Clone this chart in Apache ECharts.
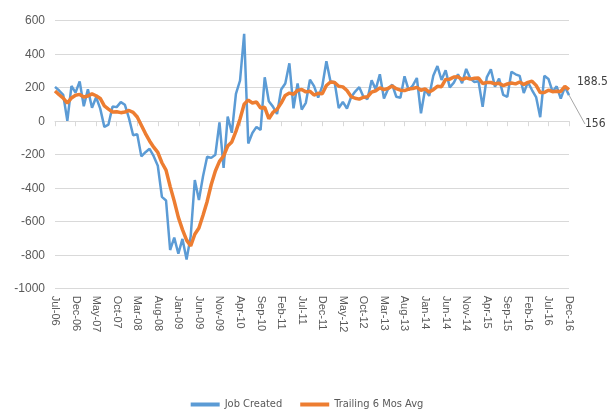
<!DOCTYPE html>
<html>
<head>
<meta charset="utf-8">
<script src="https://cdn.jsdelivr.net/npm/echarts@6/dist/echarts.min.js"></script>
<style>
  html, body { margin: 0; padding: 0; background: #fff; }
  #chart { width: 614px; height: 416px; }
</style>
</head>
<body>
<div id="chart"></div>
<script>
// Monthly categories, Jul-06 .. Dec-16
const months = [
  'Jul-06','Aug-06','Sep-06','Oct-06','Nov-06','Dec-06',
  'Jan-07','Feb-07','Mar-07','Apr-07','May-07','Jun-07','Jul-07','Aug-07','Sep-07','Oct-07','Nov-07','Dec-07',
  'Jan-08','Feb-08','Mar-08','Apr-08','May-08','Jun-08','Jul-08','Aug-08','Sep-08','Oct-08','Nov-08','Dec-08',
  'Jan-09','Feb-09','Mar-09','Apr-09','May-09','Jun-09','Jul-09','Aug-09','Sep-09','Oct-09','Nov-09','Dec-09',
  'Jan-10','Feb-10','Mar-10','Apr-10','May-10','Jun-10','Jul-10','Aug-10','Sep-10','Oct-10','Nov-10','Dec-10',
  'Jan-11','Feb-11','Mar-11','Apr-11','May-11','Jun-11','Jul-11','Aug-11','Sep-11','Oct-11','Nov-11','Dec-11',
  'Jan-12','Feb-12','Mar-12','Apr-12','May-12','Jun-12','Jul-12','Aug-12','Sep-12','Oct-12','Nov-12','Dec-12',
  'Jan-13','Feb-13','Mar-13','Apr-13','May-13','Jun-13','Jul-13','Aug-13','Sep-13','Oct-13','Nov-13','Dec-13',
  'Jan-14','Feb-14','Mar-14','Apr-14','May-14','Jun-14','Jul-14','Aug-14','Sep-14','Oct-14','Nov-14','Dec-14',
  'Jan-15','Feb-15','Mar-15','Apr-15','May-15','Jun-15','Jul-15','Aug-15','Sep-15','Oct-15','Nov-15','Dec-15',
  'Jan-16','Feb-16','Mar-16','Apr-16','May-16','Jun-16','Jul-16','Aug-16','Sep-16','Oct-16','Nov-16','Dec-16'
];

// Monthly jobs created (thousands)
const jobsCreated = [
  205, 183, 157, 2, 210, 171,
  238, 89, 190, 80, 143, 75, -34, -20, 88, 84, 114, 98,
  17, -84, -78, -210, -185, -165, -209, -266, -452, -473, -769, -695,
  -791, -703, -826, -686, -351, -470, -329, -212, -219, -200, -7, -279,
  28, -69, 163, 243, 522, -133, -70, -34, -52, 262, 119, 87,
  43, 189, 225, 346, 77, 225, 69, 110, 248, 209, 141, 209,
  358, 237, 233, 78, 115, 76, 143, 177, 203, 146, 132, 244,
  190, 280, 135, 192, 218, 146, 140, 268, 185, 212, 258, 47,
  190, 151, 272, 329, 246, 304, 202, 230, 280, 227, 312, 255,
  234, 238, 86, 262, 310, 206, 254, 157, 145, 295, 280, 271,
  168, 233, 186, 144, 24, 271, 252, 176, 208, 135, 204, 156
];

// Trailing six-month average (thousands)
const trailingAvg = [
  180, 158, 138, 108, 139, 155,
  160, 145, 150, 163, 152, 136, 91, 72, 55, 56, 51, 55,
  64, 53, 25, -24, -74, -118, -155, -186, -248, -292, -389, -477,
  -574, -647, -710, -745, -675, -638, -561, -479, -378, -297, -240, -208,
  -148, -124, -61, 13, 101, 126, 109, 115, 79, 83, 15, 52,
  71, 108, 154, 168, 161, 184, 189, 175, 179, 156, 167, 164,
  213, 234, 231, 209, 205, 183, 147, 137, 132, 143, 146, 174,
  182, 199, 188, 196, 210, 194, 185, 183, 192, 195, 202, 185,
  193, 174, 188, 208, 206, 249, 251, 264, 265, 248, 259, 251,
  256, 258, 225, 231, 231, 223, 226, 213, 222, 228, 223, 234,
  219, 232, 239, 214, 171, 171, 185, 176, 179, 178, 208, 188.5
];

const seriesNames = ['Job Created', 'Trailing 6 Mos Avg'];
const yTicks = { min: -1000, max: 600, step: 200 };

const lastIdx = months.length - 1;
const gridColor = '#d9d9d9';
const textColor = '#595959';
const narrowFont = "'DejaVu Sans Condensed', 'Liberation Sans Narrow', 'Liberation Sans', sans-serif";
const axisFont = "'Liberation Sans', Arial, sans-serif";

// Only the final point of each line carries a value label
function withEndLabel(values) {
  return values.map((v, i) => i === lastIdx
    ? { value: v, label: { show: true, position: 'right', distance: 5,
        formatter: '{c}', color: '#404040', fontSize: 12, fontFamily: narrowFont } }
    : v);
}

const chart = echarts.init(document.getElementById('chart'), null, { renderer: 'canvas' });

chart.setOption({
  backgroundColor: '#fff',
  animation: false,
  grid: { left: 55, right: 45, top: 20.7, bottom: 127.3 },
  legend: {
    data: seriesNames,
    bottom: 1,
    left: 'center',
    icon: 'rect',
    itemWidth: 29,
    itemHeight: 4,
    itemGap: 18,
    textStyle: { fontFamily: narrowFont, fontSize: 11, color: textColor }
  },
  xAxis: [
    {
      type: 'category',
      data: months,
      boundaryGap: false,
      position: 'bottom',
      axisLine: { show: false, onZero: false },
      axisTick: { show: false },
      axisLabel: { interval: 4, rotate: -90, margin: 7, fontSize: 11, color: textColor, fontFamily: axisFont },
      splitLine: { show: false }
    },
    {
      type: 'category',
      data: months,
      boundaryGap: false,
      position: 'top',
      axisLine: { show: true, onZero: true, lineStyle: { color: gridColor } },
      axisTick: { show: true, inside: true, interval: 4, length: 5, lineStyle: { color: gridColor } },
      axisLabel: { show: false },
      splitLine: { show: false }
    }
  ],
  yAxis: {
    type: 'value',
    min: yTicks.min,
    max: yTicks.max,
    interval: yTicks.step,
    axisLine: { show: false },
    axisTick: { show: false },
    axisLabel: { fontSize: 12, color: textColor, margin: 10, fontFamily: axisFont, formatter: v => String(v) },
    splitLine: { lineStyle: { color: gridColor, width: 1 } }
  },
  series: [
    {
      name: seriesNames[0],
      type: 'line',
      xAxisIndex: 0,
      data: withEndLabel(jobsCreated),
      showSymbol: true,
      showAllSymbol: true,
      symbol: 'circle',
      symbolSize: 0,
      itemStyle: { color: '#5B9BD5' },
      lineStyle: { color: '#5B9BD5', width: 2.5 },
      labelLine: { show: true, lineStyle: { color: '#a6a6a6', width: 1 } },
      labelLayout: p => p.dataIndex === lastIdx ? { dx: 11, dy: 29 } : {},
      emphasis: { disabled: true }
    },
    {
      name: seriesNames[1],
      type: 'line',
      xAxisIndex: 0,
      data: withEndLabel(trailingAvg),
      showSymbol: true,
      showAllSymbol: true,
      symbol: 'circle',
      symbolSize: 0,
      itemStyle: { color: '#ED7D31' },
      lineStyle: { color: '#ED7D31', width: 3.5 },
      labelLayout: p => p.dataIndex === lastIdx ? { dx: 3, dy: -8 } : {},
      emphasis: { disabled: true }
    }
  ]
});
</script>
</body>
</html>
